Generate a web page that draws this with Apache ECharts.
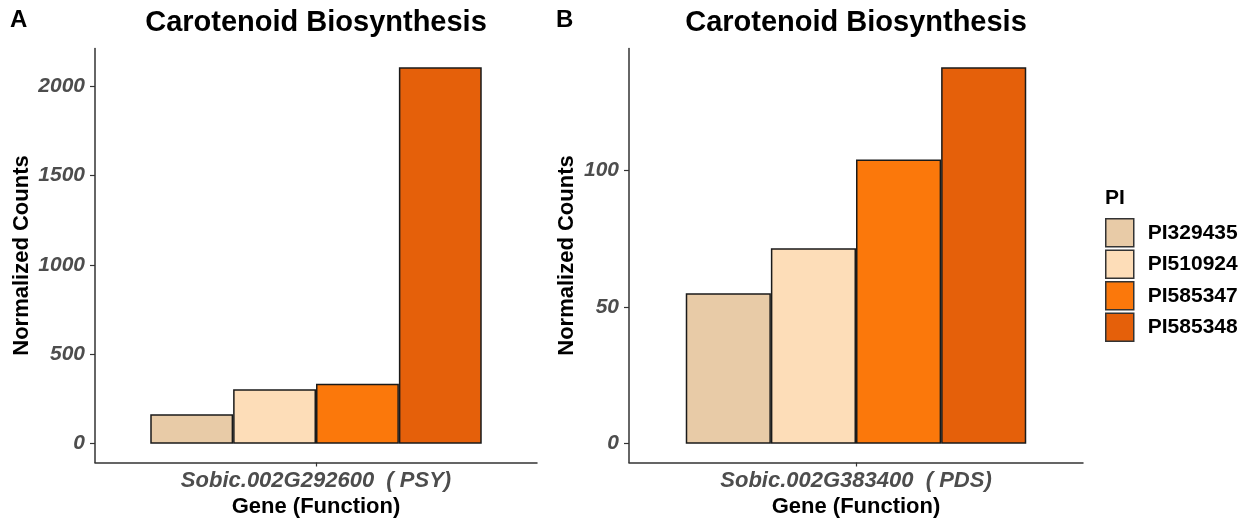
<!DOCTYPE html>
<html>
<head>
<meta charset="utf-8">
<script src="https://cdn.jsdelivr.net/npm/echarts@6/dist/echarts.min.js"></script>
<style>
html,body{margin:0;padding:0;background:#fff;}
#chart{width:1248px;height:520px;}
</style>
</head>
<body>
<div id="chart"></div>
<script>
// ---- data ----
const piNames = ['PI329435', 'PI510924', 'PI585347', 'PI585348'];
const piColors = ['#E8CBA7', '#FDDDB8', '#FB780B', '#E5600A'];
const categoriesA = ['Sobic.002G292600  ( PSY)'];
const categoriesB = ['Sobic.002G383400  ( PDS)'];
const countsA = [165, 305, 335, 2105];
const countsB = [55, 71.5, 104, 137.7];
const ticksA = [0, 500, 1000, 1500, 2000];
const ticksB = [0, 50, 100];
const panelTitles = ['Carotenoid Biosynthesis', 'Carotenoid Biosynthesis'];
const panelTags = ['A', 'B'];
const xTitle = 'Gene (Function)';
const yTitle = 'Normalized Counts';
const legendTitle = 'PI';

const FONT = 'Liberation Sans, Arial, Helvetica, sans-serif';
const chart = echarts.init(document.getElementById('chart'), null, {renderer: 'canvas'});

function yAxisFor(idx, vals, ticks, gap, margin) {
  const mx = Math.max.apply(null, vals);
  return {
    type: 'value', gridIndex: idx,
    min: -0.05 * mx, max: 1.05 * mx,
    splitLine: {show: false},
    axisLine: {show: true, onZero: false, lineStyle: {color: '#333', width: 1.5}},
    axisTick: {show: true, length: 5, lineStyle: {color: '#333', width: 1.2}, customValues: ticks},
    axisLabel: {customValues: ticks, formatter: function (v) { return String(v); },
      color: '#4D4D4D', fontStyle: 'italic', fontWeight: 'bold',
      fontSize: 21, fontFamily: FONT, margin: margin},
    name: yTitle, nameLocation: 'middle', nameGap: gap, nameRotate: 90,
    nameTextStyle: {color: '#000', fontWeight: 'bold', fontSize: 22, fontFamily: FONT}
  };
}
function xAxisFor(idx, cats) {
  return {
    type: 'category', gridIndex: idx, data: cats,
    axisLine: {show: true, onZero: false, lineStyle: {color: '#333', width: 1.5}},
    axisTick: {show: true, alignWithLabel: true, length: 4, lineStyle: {color: '#333', width: 1.2}},
    axisLabel: {color: '#4D4D4D', fontStyle: 'italic', fontWeight: 'bold', fontSize: 22,
      fontFamily: FONT, margin: 7},
    name: xTitle, nameLocation: 'middle', nameGap: 22,
    nameTextStyle: {color: '#000', fontWeight: 'bold', fontSize: 22, fontFamily: FONT}
  };
}

const series = [];
[countsA, countsB].forEach(function (vals, g) {
  piNames.forEach(function (nm, i) {
    series.push({
      type: 'bar', name: nm, xAxisIndex: g, yAxisIndex: g,
      data: [vals[i]],
      barGap: '0%', barCategoryGap: '25%',
      itemStyle: {color: piColors[i], borderColor: '#1a1a1a', borderWidth: 1.5},
      emphasis: {disabled: true},
      animation: false
    });
  });
});

const option = {
  animation: false,
  backgroundColor: '#fff',
  grid: [
    {left: 95, top: 48.5, width: 442, height: 414, outerBoundsMode: 'none', containLabel: false},
    {left: 629, top: 48.5, width: 454, height: 414, outerBoundsMode: 'none', containLabel: false}
  ],
  xAxis: [xAxisFor(0, categoriesA), xAxisFor(1, categoriesB)],
  yAxis: [yAxisFor(0, countsA, ticksA, 62, 10), yAxisFor(1, countsB, ticksB, 51, 10)],
  legend: {
    data: piNames, orient: 'vertical', left: 1105, top: 218, padding: 0,
    itemWidth: 28, itemHeight: 28, itemGap: 2, icon: 'rect',
    itemStyle: {borderColor: '#333', borderWidth: 1.5},
    textStyle: {color: '#000', fontWeight: 'bold', fontSize: 21, fontFamily: FONT, padding: [0, 0, 0, 9]},
    selectedMode: false
  },
  graphic: [
    {type: 'text', x: 316, y: 23, style: {text: panelTitles[0], font: 'bold 29px ' + FONT, fill: '#000', textAlign: 'center', textVerticalAlign: 'middle'}},
    {type: 'text', x: 856, y: 23, style: {text: panelTitles[1], font: 'bold 29px ' + FONT, fill: '#000', textAlign: 'center', textVerticalAlign: 'middle'}},
    {type: 'text', x: 10, y: 20, style: {text: panelTags[0], font: 'bold 24px ' + FONT, fill: '#000', textAlign: 'left', textVerticalAlign: 'middle'}},
    {type: 'text', x: 556, y: 20, style: {text: panelTags[1], font: 'bold 24px ' + FONT, fill: '#000', textAlign: 'left', textVerticalAlign: 'middle'}},
    {type: 'text', x: 1105, y: 198, style: {text: legendTitle, font: 'bold 21px ' + FONT, fill: '#000', textAlign: 'left', textVerticalAlign: 'middle'}}
  ],
  series: series
};
chart.setOption(option);
</script>
</body>
</html>
